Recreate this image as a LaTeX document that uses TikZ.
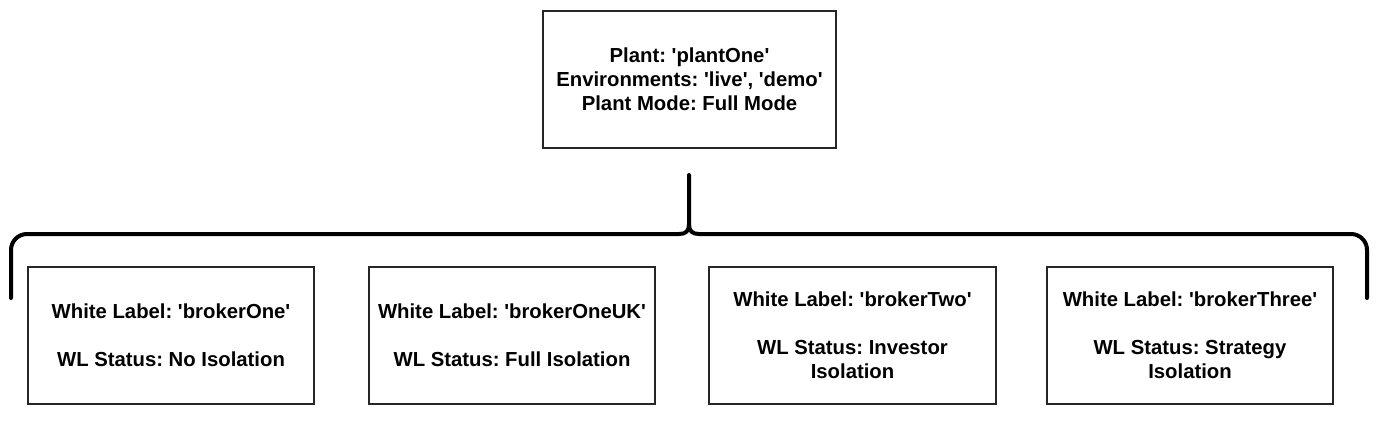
\documentclass[tikz,border=0pt]{standalone}
\usepackage{fontspec}
\setmainfont{Liberation Sans}
\frenchspacing
\newcommand{\sq}{\textquotesingle}
\begin{document}
\begin{tikzpicture}[x=1pt,y=-1pt,
  box/.style={draw=black!85,line width=1.2pt,rectangle,inner sep=0pt,align=center,
    font=\frenchspacing\bfseries\fontsize{20.3}{24}\selectfont,minimum width=286pt,minimum height=137pt},
  brace/.style={line width=4pt,line cap=round,line join=round}]
\useasboundingbox (0,0) rectangle (1380,422);
\node[box,minimum width=293pt] (plant) at (689.5,79.5) {Plant: \sq plantOne\sq\\Environments: \sq live\sq, \sq demo\sq\\Plant Mode: Full Mode};
\node[box] (b1) at (171,335.5) {White Label: \sq brokerOne\sq\\[24pt]WL Status: No Isolation};
\node[box] (b2) at (512,335.5) {White Label: \sq brokerOneUK\sq\\[24pt]WL Status: Full Isolation};
\node[box,minimum width=287pt] (b3) at (852.5,335.5) {White Label: \sq brokerTwo\sq\\[24pt]WL Status: Investor\\Isolation};
\node[box] (b4) at (1190,335.5) {White Label: \sq brokerThree\sq\\[24pt]WL Status: Strategy\\Isolation};
\coordinate (tip) at (689,175);
\coordinate (lend) at (11,298);
\coordinate (rend) at (1367,298);
\draw[brace] (lend) -- (11,250) arc[start angle=180,end angle=270,radius=16] -- (679,234)
  .. controls (686,234) and (689,231) .. (689,224) -- (tip);
\draw[brace] (rend) -- (1367,250) arc[start angle=0,end angle=-90,radius=16] -- (699,234)
  .. controls (692,234) and (689,231) .. (689,224);
\end{tikzpicture}
\end{document}
